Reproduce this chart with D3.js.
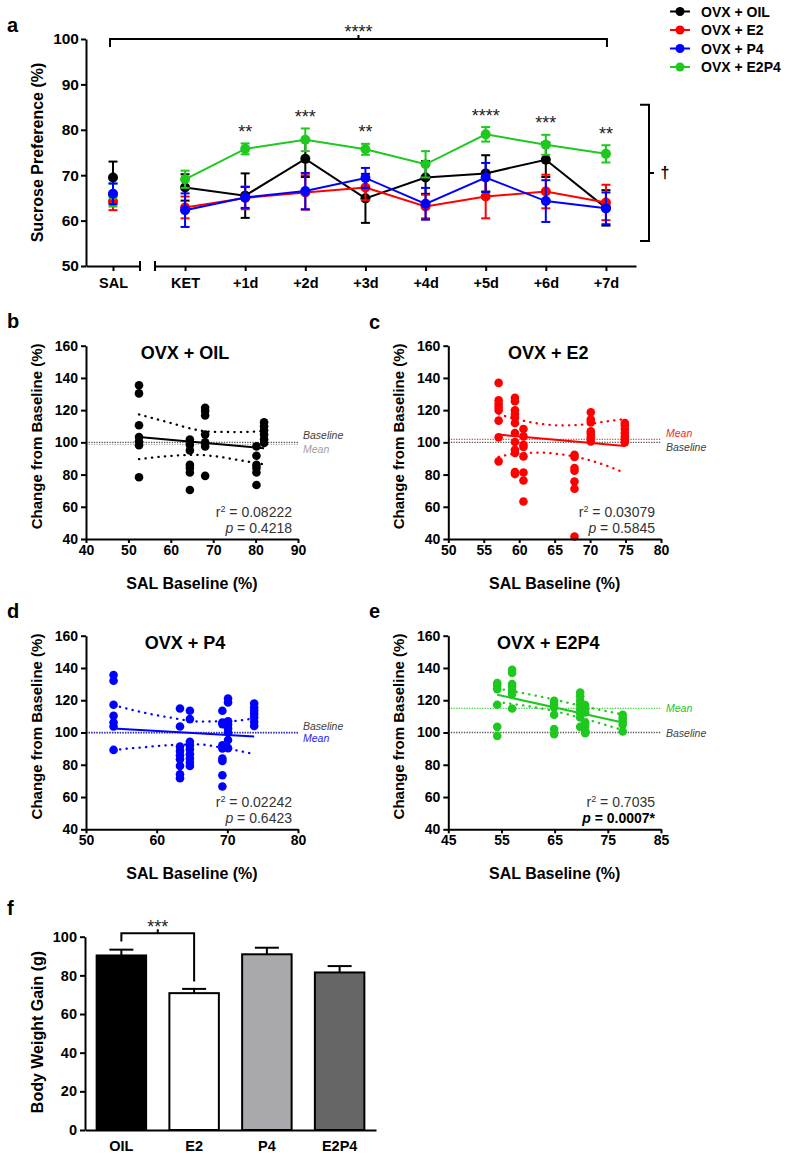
<!DOCTYPE html>
<html><head><meta charset="utf-8">
<script src="https://cdn.jsdelivr.net/npm/d3@7"></script>
<style>body{margin:0;background:#fff} svg{display:block}</style>
</head><body>
<svg id="c" width="787" height="1158"></svg>
<script>
// ---------- DATA ----------
const groups = ["OVX + OIL","OVX + E2","OVX + P4","OVX + E2P4"];
const groupColors = ["#000000","#ff0000","#0000ff","#1ec81e"];
const salLabel = ["SAL"];
const days = ["KET","+1d","+2d","+3d","+4d","+5d","+6d","+7d"];
// first value = SAL, then KET..+7d
const oilMean  = [69.5, 67.3,65.5,73.6,64.9,69.5,70.4,73.4,62.8];
const oilSem   = [3.5, 2.9,4.9,4.0,5.4,3.6,4.0,3.8,3.9];
const e2Mean   = [64.2, 62.9,65.0,66.2,67.3,63.1,65.3,66.4,64.0];
const e2Sem    = [1.9, 2.4,2.5,3.8,2.8,2.6,4.8,3.7,3.9];
const p4Mean   = [65.9, 62.3,65.1,66.5,69.4,63.7,69.5,64.3,62.7];
const p4Sem    = [2.3, 3.7,2.3,4.0,2.2,3.5,3.2,4.6,3.5];
const e2p4Mean = [65.6, 69.1,75.8,77.8,75.7,72.4,79.0,76.7,74.7];
const e2p4Sem  = [2.5, 1.9,1.2,2.5,1.2,2.9,1.6,2.2,1.9];
const dayStars = ["","**","***","**","","****","***","**"];
const prefTicks = [50,60,70,80,90,100];

// scatter panels
const oilBase = [52.5, 64.5, 68.1, 80.2, 82.0];
const oilChange = [
  [135.4,130.4,110.6,103.3,100.5,98.2,78.3],
  [101.7,98.5,95,86,84,81.3,70.4],
  [121.5,119.4,116.7,104.8,100,97.5,79.2],
  [97.5,91.7,86,84,81.3,73.5],
  [112.5,110,107.5,104.8,102,99.6]
];
const oilFit = [[52.5,103.3],[82,96.3]];
const oilUpper = [[52.5,117.3],[60,112],[66,107.8],[70,106.5],[76,106.4],[82,107]];
const oilLower = [[52.5,89.6],[60,91.6],[66,92.2],[70,91.5],[76,89],[82,86.3]];
const oilMeanLine = 98.8;

const e2Base = [57.1, 59.4, 60.6, 67.8, 70.1, 74.9];
const e2Change = [
  [136.9,126.1,124,122,119.9,113.5,103.1,88.2],
  [127.6,125.5,119.9,117.6,115.6,112,105.8,100.2,95.4,93.4,81.5,80.3],
  [108.3,103.7,98.5,97.1,91.3,81.3,76.3,63.3],
  [92.3,90.9,84,82.4,75.7,71.2,41.5],
  [118.7,114.1,112.4,106.8,105.2,103.1,100.6],
  [112,110.4,108.3,105.8,103.7,101.7,100]
];
const e2Fit = [[57.1,104.8],[74.9,97.8]];
const e2Upper = [[57.1,117.5],[60,114],[63,111.5],[66,110.5],[69,111],[72,112.8],[74.9,114.5]];
const e2Lower = [[57.1,91],[60,93.2],[63,93.6],[66,92.5],[69,90],[72,86],[74.9,81]];
const e2MeanLine = 101.9;

const p4Base = [53.9, 63.3, 64.7, 69.3, 70.1, 73.8];
const p4Change = [
  [135.6,132.1,117.2,110.4,106.2,103.7,89.2],
  [114.9,103.7,91.3,88.6,85.9,83.4,79.3,74.1,71.6],
  [113.5,108.3,94.2,92.1,89.6,86.5,83.9,81.4,79.3],
  [113.5,106.2,105.2,92.1,90.1,83.9,82.4,73.5,66.5],
  [121,118.6,107,105,102.5,100,95.4,90.3],
  [118,115.5,113.5,111.4,109.3,106.6,104.1]
];
const p4Fit = [[53.9,102.5],[73.8,97.5]];
const p4Upper = [[53.9,117],[58,112.5],[62,109.2],[66,106.8],[70,106.9],[73.8,108.8]];
const p4Lower = [[53.9,89.2],[58,90.8],[62,92.2],[66,92.6],[69,90.8],[73.8,86.6]];
const p4MeanLine = 99.8;

const e2p4Base = [54.2, 57.0, 64.9, 69.8, 70.75, 77.8];
const e2p4Change = [
  [130.6,129,126.9,117.2,103.5,97.9],
  [138.9,136.9,130,128.4,125.9,123.8,114.9],
  [119.7,117.6,115.5,111,102.1,99],
  [124.8,122.4,119.7,117.2,114.5,112,109.3,103.5],
  [117,114.5,112.4,106.2,104.1,101,99.6],
  [111,108.9,106.8,104.8,100.6]
];
const e2p4Fit = [[54.2,123.4],[77.8,106.2]];
const e2p4Upper = [[54.2,127.3],[60,123.8],[65,120.4],[70,116.5],[77.8,111.2]];
const e2p4Lower = [[54.2,118.8],[60,116.3],[65,113.2],[70,109],[77.8,101.5]];
const e2p4MeanLine = 114.9;

const changeTicks = [40,60,80,100,120,140,160];

// body weight
const bodyGroups = ["OIL","E2","P4","E2P4"];
const bodyMean = [90.3, 70.8, 90.9, 81.5];
const bodySem  = [3.0, 2.2, 3.4, 3.3];
const bodyFill = ["#000000","#ffffff","#a9a9ad","#666666"];
const bodyTicks = [0,20,40,60,80,100];

// ---------- DRAW ----------
const FONT = "'Liberation Sans', Arial, Helvetica, sans-serif";
const svg = d3.select("#c");

function styleAxis(g, size) {
  g.attr("font-size", null).attr("font-family", null);
  g.select(".domain").attr("stroke", "#000").attr("stroke-width", 2);
  g.selectAll(".tick line").attr("stroke", "#000").attr("stroke-width", 2);
  g.selectAll(".tick text").attr("fill", "#000")
    .style("font-family", FONT).style("font-weight", "bold").style("font-size", size + "px");
}
function letter(t, x, y) {
  svg.append("text").attr("x", x).attr("y", y).text(t)
    .style("font-family", FONT).style("font-weight", "bold").style("font-size", "20px");
}

// ===== Panel a =====
letter("a", 7, 32);
const ya = d3.scaleLinear().domain([50, 100]).range([266, 39]);
const xs = d3.scalePoint().domain(salLabel).range([86, 140]).padding(0.5);
const xd = d3.scalePoint().domain(days).range([155, 636]).padding(0.5);

svg.append("g").attr("transform", "translate(86,0)")
  .call(d3.axisLeft(ya).tickValues(prefTicks).tickSize(5).tickPadding(2).tickSizeOuter(0))
  .call(g => styleAxis(g, 15.5));
svg.append("g").attr("transform", "translate(0,266)")
  .call(d3.axisBottom(xs).tickSize(5).tickPadding(7).tickSizeOuter(0))
  .call(g => styleAxis(g, 14.5));
svg.append("g").attr("transform", "translate(0,266)")
  .call(d3.axisBottom(xd).tickSize(5).tickPadding(7).tickSizeOuter(0))
  .call(g => styleAxis(g, 14.5));
// axis break end ticks
[xs.range()[1], xd.range()[0]].forEach(x => {
  svg.append("line").attr("x1", x).attr("x2", x).attr("y1", 261).attr("y2", 271)
    .attr("stroke", "#000").attr("stroke-width", 2);
});
svg.append("text").attr("transform", "translate(37,152.5) rotate(-90)")
  .attr("text-anchor", "middle").attr("dominant-baseline", "central")
  .text("Sucrose Preference (%)")
  .style("font-family", FONT).style("font-weight", "bold").style("font-size", "16px");

const series = [
  {m: oilMean, s: oilSem, c: groupColors[0]},
  {m: e2Mean, s: e2Sem, c: groupColors[1]},
  {m: e2p4Mean, s: e2p4Sem, c: groupColors[3]},
  {m: p4Mean, s: p4Sem, c: groupColors[2]}
];
const lineA = d3.line().x(d => d[0]).y(d => d[1]);
series.forEach(sr => {
  const pts = [[xs("SAL"), sr.m[0], sr.s[0]]].concat(days.map((d, i) => [xd(d), sr.m[i + 1], sr.s[i + 1]]));
  const g = svg.append("g");
  g.append("path").attr("d", lineA(pts.slice(1).map(p => [p[0], ya(p[1])])))
    .attr("fill", "none").attr("stroke", sr.c).attr("stroke-width", 2);
  pts.forEach(p => {
    const yt = ya(p[1] + p[2]), yb = ya(p[1] - p[2]);
    g.append("line").attr("x1", p[0]).attr("x2", p[0]).attr("y1", yt).attr("y2", yb)
      .attr("stroke", sr.c).attr("stroke-width", 2);
    [yt, yb].forEach(y => g.append("line").attr("x1", p[0] - 4.5).attr("x2", p[0] + 4.5)
      .attr("y1", y).attr("y2", y).attr("stroke", sr.c).attr("stroke-width", 2));
    g.append("circle").attr("cx", p[0]).attr("cy", ya(p[1])).attr("r", 5).attr("fill", sr.c);
  });
});
// stars above green
days.forEach((d, i) => {
  if (!dayStars[i]) return;
  svg.append("text").attr("x", xd(d)).attr("y", ya(e2p4Mean[i + 1] + e2p4Sem[i + 1]) - 5.5)
    .attr("text-anchor", "middle").text(dayStars[i])
    .style("font-family", FONT).style("font-size", "18px").attr("fill", "#222");
});
// top bracket
{
  const xl = xs("SAL") - 3, xr = xd("+7d") + 1, yT = ya(100), mid = (xl + xr) / 2;
  svg.append("path").attr("d", `M${xl},${yT + 8}V${yT}H${xr}V${yT + 8}M${mid},${yT}V${yT - 4}`)
    .attr("fill", "none").attr("stroke", "#000").attr("stroke-width", 2);
  svg.append("text").attr("x", mid).attr("y", yT - 1.5).attr("text-anchor", "middle").text("****")
    .style("font-family", FONT).style("font-size", "18px").attr("fill", "#222");
  // right bracket
  const bx = 649, bt = ya(85.5), bb = ya(55.5), bm = (bt + bb) / 2;
  svg.append("path").attr("d", `M${bx - 9},${bt}H${bx}V${bb}H${bx - 9}M${bx},${bm}H${bx + 5}`)
    .attr("fill", "none").attr("stroke", "#000").attr("stroke-width", 2);
  svg.append("text").attr("x", bx + 16).attr("y", bm).attr("text-anchor", "middle")
    .attr("dominant-baseline", "central").text("†")
    .style("font-family", FONT).style("font-weight", "bold").style("font-size", "16px");
}
// legend
groups.forEach((name, i) => {
  const y = 11.5 + i * 18.5;
  svg.append("line").attr("x1", 670).attr("x2", 690).attr("y1", y).attr("y2", y)
    .attr("stroke", groupColors[i]).attr("stroke-width", 2);
  svg.append("circle").attr("cx", 680).attr("cy", y).attr("r", 4.5).attr("fill", groupColors[i]);
  svg.append("text").attr("x", 701).attr("y", y).attr("dominant-baseline", "central").text(name)
    .style("font-family", FONT).style("font-weight", "bold").style("font-size", "14px");
});

// ===== Scatter panels =====
function scatter(o) {
  const x = d3.scaleLinear().domain(o.xDomain).range([o.x0, o.x1]);
  const y = d3.scaleLinear().domain([40, 160]).range([o.y0, o.y1]);
  letter(o.letter, o.lx, o.ly);
  // dotted reference lines
  const refLine = (v, col) => svg.append("line").attr("x1", o.x0).attr("x2", o.x1)
    .attr("y1", y(v)).attr("y2", y(v)).attr("stroke", col).attr("stroke-width", 1.3)
    .attr("stroke-dasharray", "1.3,1.3");
  refLine(100, "#555");
  refLine(o.meanVal, o.meanColor);
  // labels
  const lab = (t, col, yy, mode) => svg.append("text").attr("x", o.x1 + 5).attr("y", yy)
    .attr("dominant-baseline", mode).text(t).attr("fill", col)
    .style("font-family", FONT).style("font-style", "italic").style("font-size", "10.5px");
  if (o.labelMode === "center") {
    lab("Baseline", "#404040", y(100), "central");
    lab("Mean", o.meanTextColor, y(o.meanVal), "central");
  } else if (o.meanAbove) {
    lab("Mean", o.meanTextColor, y(Math.max(100, o.meanVal)) - 2, "auto");
    lab("Baseline", "#404040", y(Math.min(100, o.meanVal)) + 9, "auto");
  } else {
    lab("Baseline", "#404040", y(Math.max(100, o.meanVal)) - 3, "auto");
    lab("Mean", o.meanTextColor, y(Math.min(100, o.meanVal)) + 9, "auto");
  }
  // dots
  const g = svg.append("g");
  o.base.forEach((bx, i) => {
    o.change[i].forEach(v => g.append("circle").attr("cx", x(bx)).attr("cy", y(v))
      .attr("r", 4.3).attr("fill", o.color));
  });
  // fit and CI
  const ln = d3.line().x(d => x(d[0])).y(d => y(d[1]));
  const lnC = d3.line().x(d => x(d[0])).y(d => y(d[1])).curve(d3.curveMonotoneX);
  svg.append("path").attr("d", ln(o.fit)).attr("fill", "none").attr("stroke", o.color).attr("stroke-width", 2);
  [o.upper, o.lower].forEach(ci => svg.append("path").attr("d", lnC(ci)).attr("fill", "none")
    .attr("stroke", o.color).attr("stroke-width", 2.3).attr("stroke-linecap", "round")
    .attr("stroke-dasharray", "0.3,6.2"));
  // axes
  svg.append("g").attr("transform", `translate(${o.x0},0)`)
    .call(d3.axisLeft(y).tickValues(changeTicks).tickSize(5).tickPadding(3).tickSizeOuter(0))
    .call(gg => styleAxis(gg, 14));
  svg.append("g").attr("transform", `translate(0,${o.y0})`)
    .call(d3.axisBottom(x).tickValues(o.xTicks).tickSize(4).tickPadding(2).tickSizeOuter(0))
    .call(gg => styleAxis(gg, 14));
  // titles
  svg.append("text").attr("x", o.x0 + o.titleDx).attr("y", o.y1 + 13.5).attr("text-anchor", "middle")
    .text(o.title).style("font-family", FONT).style("font-weight", "bold").style("font-size", "18px");
  svg.append("text").attr("x", (o.x0 + o.x1) / 2).attr("y", o.y0 + 50).attr("text-anchor", "middle")
    .text("SAL Baseline (%)").style("font-family", FONT).style("font-weight", "bold").style("font-size", "16px");
  svg.append("text").attr("transform", `translate(${o.x0 - 50},${(o.y0 + o.y1) / 2 - 6}) rotate(-90)`)
    .attr("text-anchor", "middle").attr("dominant-baseline", "central")
    .text("Change from Baseline (%)")
    .style("font-family", FONT).style("font-weight", "bold").style("font-size", "15px");
  // stats
  const t1 = svg.append("text").attr("x", o.x1 - 6).attr("y", o.y0 - 22).attr("text-anchor", "end")
    .attr("fill", "#333").style("font-family", FONT).style("font-size", "14px");
  t1.append("tspan").text("r");
  t1.append("tspan").attr("dy", -5).style("font-size", "9px").text("2");
  t1.append("tspan").attr("dy", 5).text(" = " + o.r2);
  const t2 = svg.append("text").attr("x", o.x1 - 6).attr("y", o.y0 - 6).attr("text-anchor", "end")
    .attr("fill", o.pBold ? "#000" : "#333").style("font-family", FONT).style("font-size", "14px")
    .style("font-weight", o.pBold ? "bold" : "normal");
  t2.append("tspan").style("font-style", "italic").text("p");
  t2.append("tspan").text(" = " + o.p);
}

scatter({letter: "b", lx: 7, ly: 328, x0: 86, x1: 298, y0: 539, y1: 345.7,
  xDomain: [40, 90], xTicks: [40, 50, 60, 70, 80, 90], color: "#000",
  base: oilBase, change: oilChange, fit: oilFit, upper: oilUpper, lower: oilLower,
  meanVal: oilMeanLine, meanColor: "#aaaaaa", meanTextColor: "#a0a0a0", meanAbove: false,
  title: "OVX + OIL", titleDx: 99, r2: "0.08222", p: "0.4218"});
scatter({letter: "c", lx: 369, ly: 329, x0: 448.3, x1: 661, y0: 539, y1: 345.7,
  xDomain: [50, 80], xTicks: [50, 55, 60, 65, 70, 75, 80], color: "#ff0000",
  base: e2Base, change: e2Change, fit: e2Fit, upper: e2Upper, lower: e2Lower,
  meanVal: e2MeanLine, meanColor: "#ff4040", meanTextColor: "#ff2020", meanAbove: true,
  title: "OVX + E2", titleDx: 100, r2: "0.03079", p: "0.5845"});
scatter({letter: "d", lx: 7, ly: 618, x0: 86, x1: 298, y0: 829.3, y1: 635.7,
  xDomain: [50, 80], xTicks: [50, 60, 70, 80], color: "#0000ff",
  base: p4Base, change: p4Change, fit: p4Fit, upper: p4Upper, lower: p4Lower,
  meanVal: p4MeanLine, meanColor: "#2020ff", meanTextColor: "#2020ff", meanAbove: false,
  title: "OVX + P4", titleDx: 99, r2: "0.02242", p: "0.6423"});
scatter({letter: "e", lx: 369, ly: 618, x0: 448.3, x1: 661, y0: 829.3, y1: 635.7,
  xDomain: [45, 85], xTicks: [45, 55, 65, 75, 85], color: "#1ec81e",
  base: e2p4Base, change: e2p4Change, fit: e2p4Fit, upper: e2p4Upper, lower: e2p4Lower,
  meanVal: e2p4MeanLine, meanColor: "#40d040", meanTextColor: "#22c422", labelMode: "center",
  title: "OVX + E2P4", titleDx: 100, r2: "0.7035", p: "0.0007*", pBold: true});

// ===== Panel f =====
letter("f", 7, 915);
const xb = d3.scaleBand().domain(bodyGroups).range([85, 376]).paddingInner(0.32).paddingOuter(0.16);
const yb = d3.scaleLinear().domain([0, 100]).range([1130, 936.7]);
bodyGroups.forEach((k, i) => {
  svg.append("rect").attr("x", xb(k)).attr("y", yb(bodyMean[i])).attr("width", xb.bandwidth())
    .attr("height", yb(0) - yb(bodyMean[i])).attr("fill", bodyFill[i])
    .attr("stroke", "#000").attr("stroke-width", 2);
  const cx = xb(k) + xb.bandwidth() / 2, yt = yb(bodyMean[i] + bodySem[i]);
  svg.append("line").attr("x1", cx).attr("x2", cx).attr("y1", yb(bodyMean[i])).attr("y2", yt)
    .attr("stroke", "#000").attr("stroke-width", 2);
  svg.append("line").attr("x1", cx - 12).attr("x2", cx + 12).attr("y1", yt).attr("y2", yt)
    .attr("stroke", "#000").attr("stroke-width", 2);
});
svg.append("g").attr("transform", "translate(85,0)")
  .call(d3.axisLeft(yb).tickValues(bodyTicks).tickSize(5).tickPadding(3).tickSizeOuter(0))
  .call(g => styleAxis(g, 14.5));
svg.append("g").attr("transform", "translate(0,1130)")
  .call(d3.axisBottom(xb).tickSize(0).tickPadding(11).tickSizeOuter(0))
  .call(g => styleAxis(g, 14.5));
svg.append("text").attr("transform", "translate(37,1032) rotate(-90)")
  .attr("text-anchor", "middle").attr("dominant-baseline", "central")
  .text("Body Weight Gain (g)")
  .style("font-family", FONT).style("font-weight", "bold").style("font-size", "16px");
{
  const xl = xb("OIL") + xb.bandwidth() / 2, xr = xb("E2") + xb.bandwidth() / 2, mid = (xl + xr) / 2;
  const yT = yb(101.8);
  svg.append("path").attr("d", `M${xl},${yb(97.5)}V${yT}H${xr}V${yb(76.8)}M${mid},${yT}V${yT - 4}`)
    .attr("fill", "none").attr("stroke", "#000").attr("stroke-width", 2);
  svg.append("text").attr("x", mid).attr("y", yT - 0.5).attr("text-anchor", "middle").text("***")
    .style("font-family", FONT).style("font-size", "18px").attr("fill", "#222");
}
</script>
</body></html>
